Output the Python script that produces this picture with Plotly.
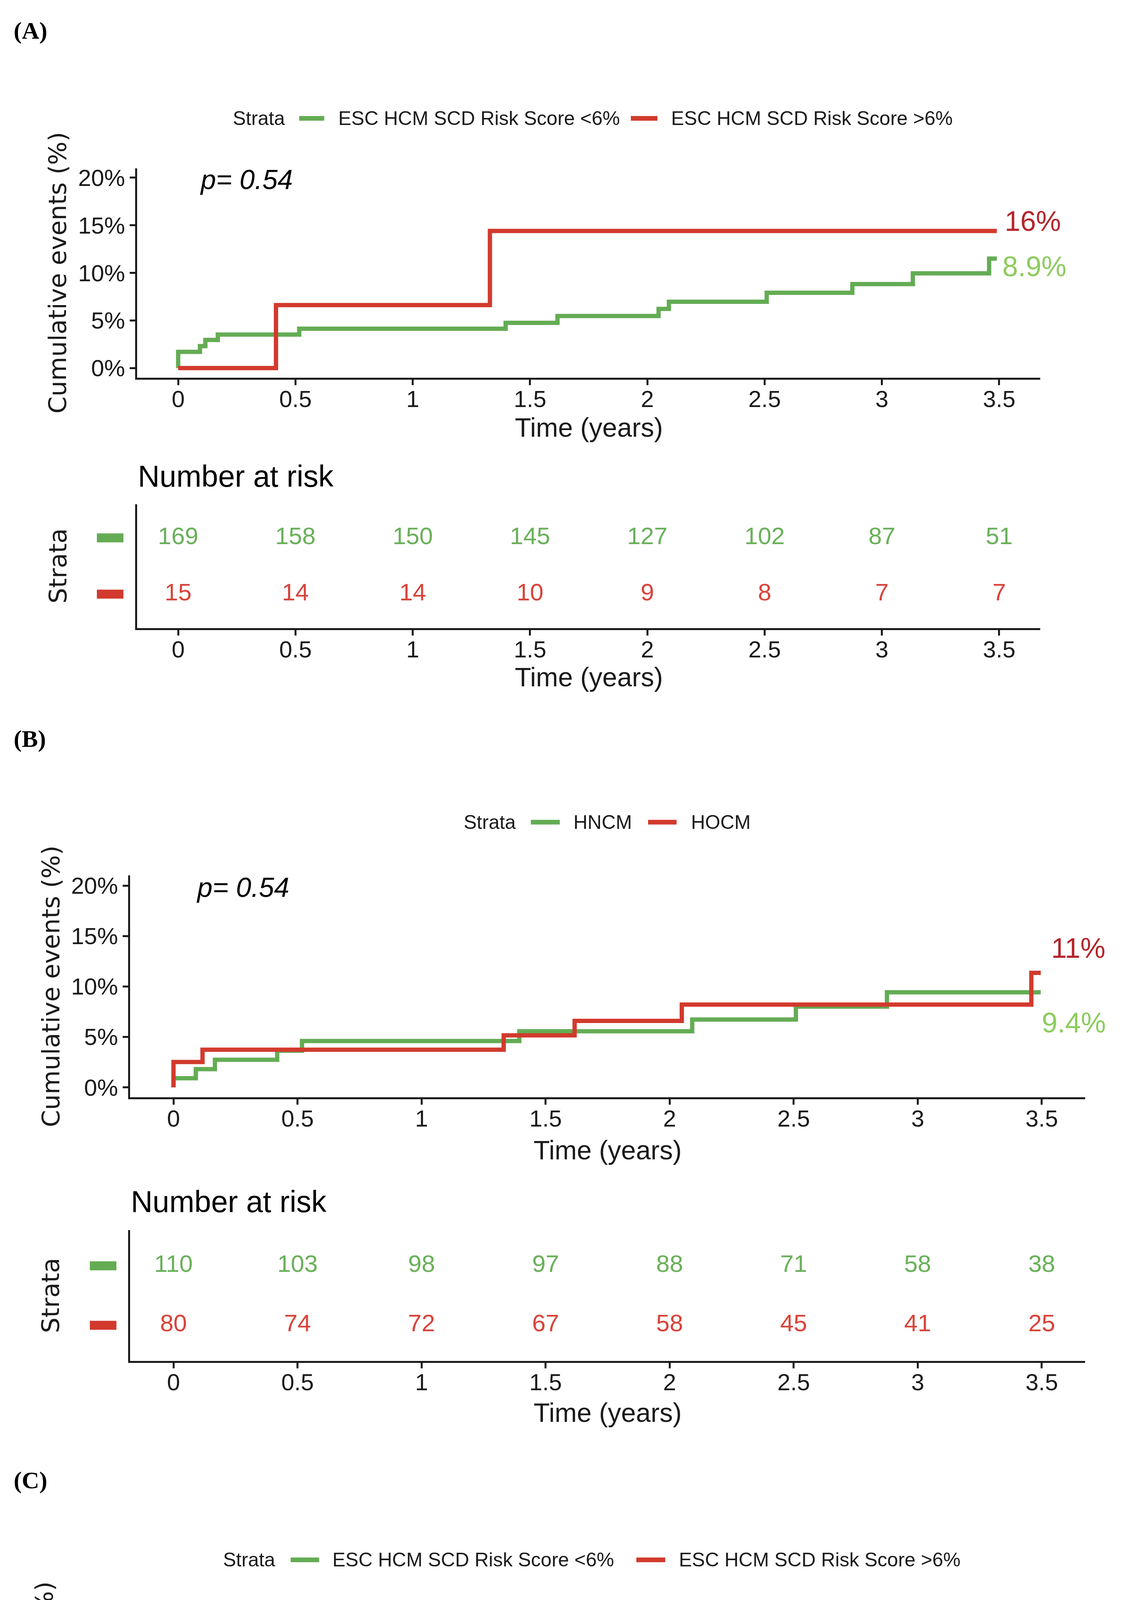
import plotly.graph_objects as go

W, H = 2880, 5572

# ---------------- data ----------------
x_ticks = [0, 0.5, 1, 1.5, 2, 2.5, 3, 3.5]
y_ticks = [0, 5, 10, 15, 20]
risk_times = [0, 0.5, 1, 1.5, 2, 2.5, 3, 3.5]

# Panel A
a_strata = ["ESC HCM SCD Risk Score <6%", "ESC HCM SCD Risk Score >6%"]
a_green_t = [0, 0, 0.093, 0.116, 0.169, 0.516, 1.396, 1.617, 2.048, 2.092, 2.509, 2.874, 3.132, 3.457, 3.49]
a_green_v = [0, 1.71, 2.31, 2.96, 3.52, 4.14, 4.75, 5.47, 6.22, 6.97, 7.91, 8.83, 9.95, 11.5, 11.5]
a_red_t = [0, 0.417, 1.329, 3.49]
a_red_v = [0, 6.62, 14.41, 14.41]
a_green_risk = [169, 158, 150, 145, 127, 102, 87, 51]
a_red_risk = [15, 14, 14, 10, 9, 8, 7, 7]
a_end_labels = ["8.9%", "16%"]
a_pvalue = "p= 0.54"

# Panel B
b_strata = ["HNCM", "HOCM"]
b_green_t = [0, 0, 0.09, 0.167, 0.418, 0.518, 1.394, 2.091, 2.509, 2.876, 3.496]
b_green_v = [0, 0.9, 1.8, 2.73, 3.63, 4.59, 5.56, 6.72, 8.0, 9.42, 9.42]
b_red_t = [0, 0, 0.117, 1.331, 1.617, 2.049, 3.458, 3.496]
b_red_v = [0, 2.51, 3.73, 5.15, 6.59, 8.2, 11.35, 11.35]
b_green_risk = [110, 103, 98, 97, 88, 71, 58, 38]
b_red_risk = [80, 74, 72, 67, 58, 45, 41, 25]
b_end_labels = ["9.4%", "11%"]
b_pvalue = "p= 0.54"

# Panel C
c_strata = ["ESC HCM SCD Risk Score <6%", "ESC HCM SCD Risk Score >6%"]
c_green_t = [0, 0.247, 0.411, 0.522, 0.731, 0.769, 0.953, 1.688, 2.279, 2.948, 3.5]
c_green_v = [0, 0.56, 1.15, 1.75, 2.34, 2.93, 3.52, 4.11, 4.8, 5.55, 5.55]
c_red_t = [0, 2.128, 3.5]
c_red_v = [0, 6.71, 6.71]
c_green_risk = [172, 170, 165, 161, 156, 142, 120, 106]
c_red_risk = [18, 18, 18, 18, 16, 13, 12, 11]
c_end_labels = ["4.7%", "6.7%"]
c_pvalue = "p= 0.94"

# ---------------- styles / layout config ----------------
GREEN = "#64AC54"
RED = "#D23A2D"
GREEN_LBL = "#8DCB5F"
RED_LBL = "#B3262A"
GREEN_NUM = "#6AB05A"
RED_NUM = "#D8443B"
AX = "#1a1a1a"
SANS = "Liberation Sans, Arial, sans-serif"
WIDE = "DejaVu Sans, Verdana, sans-serif"
SERIF = "Liberation Serif, Times New Roman, serif"

panels = [
    dict(tag="(A)", tag_y=70, strata=a_strata, gt=a_green_t, gv=a_green_v, rt=a_red_t, rv=a_red_v,
         grisk=a_green_risk, rrisk=a_red_risk, ends=a_end_labels, pval=a_pvalue,
         x_px=(351, 2663), plot_y=(423, 961), risk_y=(1286, 1604),
         legend_y=295, legend_px=[594, (766, 830), 864, (1615, 1683), 1716],
         end_pos=[(3.51, 10.7), (3.52, 15.45)],
         xt_y=1089, nar_y=1214, rxt_y=1730),
    dict(tag="(B)", tag_y=1889, strata=b_strata, gt=b_green_t, gv=b_green_v, rt=b_red_t, rv=b_red_v,
         grisk=b_green_risk, rrisk=b_red_risk, ends=b_end_labels, pval=b_pvalue,
         x_px=(333, 2778), plot_y=(2240, 2810), risk_y=(3151, 3487),
         legend_y=2103, legend_px=[1185, (1359, 1433), 1466, (1659, 1732), 1767],
         end_pos=[(3.497, 6.4), (3.535, 13.8)],
         xt_y=2945, nar_y=3077, rxt_y=3619),
    dict(tag="(C)", tag_y=3793, strata=c_strata, gt=c_green_t, gv=c_green_v, rt=c_red_t, rv=c_red_v,
         grisk=c_green_risk, rrisk=c_red_risk, ends=c_end_labels, pval=c_pvalue,
         x_px=(316, 2739), plot_y=(4136, 4695), risk_y=(5033, 5368),
         legend_y=3998, legend_px=[569, (744, 817), 849, (1629, 1703), 1736],
         end_pos=[(3.563, 4.49), (3.563, 8.35)],
         xt_y=4830, nar_y=4960, rxt_y=5497),
]


def px(xp):
    return xp / W


def py(yp):
    return 1 - yp / H


def xs(k):
    return "x" if k == 1 else f"x{k}"


def ys(k):
    return "y" if k == 1 else f"y{k}"


fig = go.Figure()
layout = dict(width=W, height=H, margin=dict(l=0, r=0, t=0, b=0),
              paper_bgcolor="white", plot_bgcolor="white", showlegend=False,
              font=dict(family=SANS, color=AX))
annotations = []
shapes = []

axis_common = dict(showgrid=False, zeroline=False, showline=True, linecolor=AX, linewidth=5,
                   ticks="outside", ticklen=14, tickwidth=5, tickcolor=AX,
                   tickfont=dict(family=SANS, size=60, color=AX))

for i, p in enumerate(panels):
    ip = 2 * i + 1  # plot axes
    ir = 2 * i + 2  # risk axes
    xdom = [px(p["x_px"][0]), px(p["x_px"][1])]

    layout[f"xaxis{'' if ip == 1 else ip}"] = dict(axis_common, domain=xdom, range=[-0.175, 3.675],
                                                  tickvals=x_ticks, anchor=ys(ip), ticklabelstandoff=-16)
    layout[f"yaxis{'' if ip == 1 else ip}"] = dict(axis_common, domain=[py(p["plot_y"][1]), py(p["plot_y"][0])],
                                                  range=[-1, 21], tickvals=y_ticks,
                                                  ticktext=[f"{v}%" for v in y_ticks], anchor=xs(ip))
    layout[f"xaxis{ir}"] = dict(axis_common, domain=xdom, range=[-0.175, 3.675],
                                tickvals=x_ticks, anchor=ys(ir), ticklabelstandoff=-16)
    layout[f"yaxis{ir}"] = dict(axis_common, domain=[py(p["risk_y"][1]), py(p["risk_y"][0])],
                                range=[0.4, 2.6], showticklabels=False, ticks="", anchor=xs(ir))

    fig.add_trace(go.Scatter(x=p["gt"], y=p["gv"], mode="lines", line=dict(color=GREEN, width=11, shape="hv"),
                             name=p["strata"][0], xaxis=xs(ip), yaxis=ys(ip)))
    fig.add_trace(go.Scatter(x=p["rt"], y=p["rv"], mode="lines", line=dict(color=RED, width=11, shape="hv"),
                             name=p["strata"][1], xaxis=xs(ip), yaxis=ys(ip)))
    fig.add_trace(go.Scatter(x=risk_times, y=[2] * len(risk_times), mode="text",
                             text=[str(v) for v in p["grisk"]],
                             textfont=dict(family=SANS, size=62, color=GREEN_NUM),
                             xaxis=xs(ir), yaxis=ys(ir)))
    fig.add_trace(go.Scatter(x=risk_times, y=[1] * len(risk_times), mode="text",
                             text=[str(v) for v in p["rrisk"]],
                             textfont=dict(family=SANS, size=62, color=RED_NUM),
                             xaxis=xs(ir), yaxis=ys(ir)))

    annotations.append(dict(text=f"<b>{p['tag']}</b>", x=px(33), y=py(p["tag_y"]), xref="paper", yref="paper",
                            xanchor="left", yanchor="middle", showarrow=False,
                            font=dict(family=SERIF, size=62, color="black")))
    lp = p["legend_px"]
    ly = py(p["legend_y"])
    for txt, lx in [("Strata", lp[0]), (p["strata"][0], lp[2]), (p["strata"][1], lp[4])]:
        annotations.append(dict(text=txt, x=px(lx), y=ly, xref="paper", yref="paper", xanchor="left",
                                yanchor="middle", showarrow=False, font=dict(family=SANS, size=50, color=AX)))
    for (k0, k1), col in [(lp[1], GREEN), (lp[3], RED)]:
        shapes.append(dict(type="line", xref="paper", yref="paper", x0=px(k0), x1=px(k1), y0=ly, y1=ly,
                           line=dict(color=col, width=12)))

    annotations.append(dict(text=f"<i>{p['pval']}</i>", x=0.09, y=19.8, xref=xs(ip), yref=ys(ip),
                            xanchor="left", yanchor="middle", showarrow=False,
                            font=dict(family=SANS, size=70, color="black")))
    for lab, (ex, ey), col in zip(p["ends"], p["end_pos"], [GREEN_LBL, RED_LBL]):
        annotations.append(dict(text=lab, x=ex, y=ey, xref=xs(ip), yref=ys(ip), xanchor="left",
                                yanchor="middle", showarrow=False, font=dict(family=SANS, size=72, color=col)))

    xc = px((p["x_px"][0] + p["x_px"][1]) / 2)
    for ty in (p["xt_y"], p["rxt_y"]):
        annotations.append(dict(text="Time (years)", x=xc, y=py(ty), xref="paper", yref="paper",
                                xanchor="center", yanchor="middle", showarrow=False,
                                font=dict(family=SANS, size=68, color=AX)))
    annotations.append(dict(text="Cumulative events (%)", x=px(p["x_px"][0] - 203),
                            y=py((p["plot_y"][0] + p["plot_y"][1]) / 2), xref="paper", yref="paper",
                            xanchor="center", yanchor="middle", textangle=-90, showarrow=False,
                            font=dict(family=WIDE, size=63, color=AX)))
    annotations.append(dict(text="Strata", x=px(p["x_px"][0] - 203),
                            y=py((p["risk_y"][0] + p["risk_y"][1]) / 2), xref="paper", yref="paper",
                            xanchor="center", yanchor="middle", textangle=-90, showarrow=False,
                            font=dict(family=WIDE, size=63, color=AX)))
    annotations.append(dict(text="Number at risk", x=px(p["x_px"][0]), y=py(p["nar_y"]), xref="paper",
                            yref="paper", xanchor="left", yanchor="middle", showarrow=False,
                            font=dict(family=SANS, size=77, color="black")))
    for row, col in [(2, GREEN), (1, RED)]:
        shapes.append(dict(type="line", xref="paper", yref=ys(ir), x0=px(p["x_px"][0] - 103),
                           x1=px(p["x_px"][0] - 35), y0=row, y1=row, line=dict(color=col, width=23)))

layout["annotations"] = annotations
layout["shapes"] = shapes
fig.update_layout(**layout)
fig.write_html("out.html", config={"displayModeBar": False},
               post_script="document.body.style.margin='0px';")
